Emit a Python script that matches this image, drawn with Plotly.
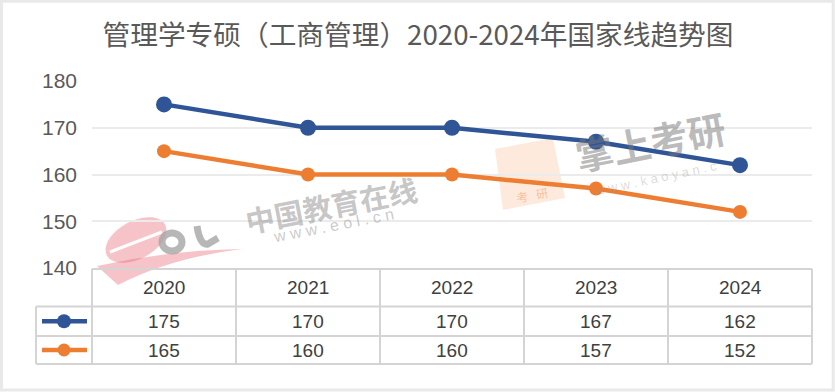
import math
import plotly.graph_objects as go

years = ["2020", "2021", "2022", "2023", "2024"]
series_a = [175, 170, 170, 167, 162]
series_b = [165, 160, 160, 157, 152]
y_ticks = [140, 150, 160, 170, 180]
title_text = "管理学专硕（工商管理）2020-2024年国家线趋势图"

blue = "#2F5597"
orange = "#ED7D31"
W, H = 835, 392
ml, mr, mt, mb = 92, 23, 81, 124
pw, ph = W - ml - mr, H - mt - mb


def px(xp):
    return (xp - ml) / pw


def py(yp):
    return (H - mb - yp) / ph


def poly(points):
    return "M " + " L ".join("{:.5f},{:.5f}".format(px(a), py(b)) for a, b in points) + " Z"


xi = list(range(len(years)))

fig = go.Figure()
fig.add_trace(go.Scatter(x=xi, y=series_a, mode="lines+markers",
                         line=dict(color=blue, width=4.5),
                         marker=dict(color=blue, size=16), showlegend=False))
fig.add_trace(go.Scatter(x=xi, y=series_b, mode="lines+markers",
                         line=dict(color=orange, width=4.5),
                         marker=dict(color=orange, size=14), showlegend=False))

shapes = []
# outer border
shapes.append(dict(type="rect", xref="paper", yref="paper",
                   x0=px(1.5), x1=px(833.2), y0=py(390), y1=py(1.2),
                   line=dict(color="#e9e9e9", width=3), layer="above"))

# watermark: kaoyan icon (faint orange rounded square)
shapes.append(dict(type="path", xref="paper", yref="paper",
                   path=poly([(495, 149), (553, 138), (565, 198), (503, 210)]),
                   fillcolor="rgba(249,180,130,0.28)", line=dict(width=0), layer="below"))

# watermark: eol logo, pink "e" body (tilted ellipse)
cx, cy, rx, ry, rot = 136, 240, 33, 19, math.radians(-28)
pts = []
for k in range(36):
    t = 2 * math.pi * k / 36
    ex, ey = rx * math.cos(t), ry * math.sin(t)
    pts.append((cx + ex * math.cos(rot) - ey * math.sin(rot),
                cy + ex * math.sin(rot) + ey * math.cos(rot)))
shapes.append(dict(type="path", xref="paper", yref="paper", path=poly(pts),
                   fillcolor="rgba(232,100,110,0.38)", line=dict(width=0), layer="below"))
shapes.append(dict(type="line", xref="paper", yref="paper",
                   x0=px(110), y0=py(252), x1=px(162), y1=py(232),
                   line=dict(color="white", width=3), layer="below"))
# pink swoosh tail
shapes.append(dict(type="path", xref="paper", yref="paper",
                   path="M {},{} Q {},{} {},{} Q {},{} {},{} Z".format(
                       px(97), py(266), px(170), py(250), px(242), py(249),
                       px(170), py(258), px(118), py(285)),
                   fillcolor="rgba(232,100,110,0.38)", line=dict(width=0), layer="below"))
# gray "o" ring
shapes.append(dict(type="circle", xref="paper", yref="paper", xsizemode="pixel",
                   ysizemode="pixel", xanchor=px(172), yanchor=py(242),
                   x0=-10, x1=10, y0=-9, y1=9, fillcolor="rgba(0,0,0,0)",
                   line=dict(color="rgba(165,165,165,0.8)", width=7), layer="below"))
# gray "l" hook
shapes.append(dict(type="path", xref="paper", yref="paper",
                   path="M {},{} Q {},{} {},{} L {},{}".format(
                       px(197), py(226), px(200), py(246), px(208), py(244),
                       px(218), py(238)),
                   fillcolor="rgba(0,0,0,0)",
                   line=dict(color="rgba(165,165,165,0.8)", width=7), layer="below"))

# table geometry
y_top = py(269)
y_h = py(306.5)
y_r1 = py(336)
y_r2 = py(364)
x_left = px(36)
tc = "#d4d4d4"
cat_edges = [px(ml + 144 * k) for k in range(len(years) + 1)]
shapes.append(dict(type="line", xref="paper", yref="paper", x0=cat_edges[0], x1=cat_edges[-1],
                   y0=y_top, y1=y_top, line=dict(color=tc, width=2)))
for yy in [y_h, y_r1, y_r2]:
    shapes.append(dict(type="line", xref="paper", yref="paper", x0=x_left, x1=cat_edges[-1],
                       y0=yy, y1=yy, line=dict(color=tc, width=2)))
shapes.append(dict(type="line", xref="paper", yref="paper", x0=x_left, x1=x_left,
                   y0=y_h, y1=y_r2, line=dict(color=tc, width=2)))
for xx in cat_edges:
    shapes.append(dict(type="line", xref="paper", yref="paper", x0=xx, x1=xx,
                       y0=y_top, y1=y_r2, line=dict(color=tc, width=2)))
# legend keys
for col, yy, r in [(blue, (y_h + y_r1) / 2, 7), (orange, (y_r1 + y_r2) / 2, 6.5)]:
    shapes.append(dict(type="line", xref="paper", yref="paper",
                       x0=px(42), x1=px(87), y0=yy, y1=yy,
                       line=dict(color=col, width=4.5)))
    shapes.append(dict(type="circle", xref="paper", yref="paper", xsizemode="pixel",
                       ysizemode="pixel", xanchor=px(64), yanchor=yy,
                       x0=-r, x1=r, y0=-r, y1=r, fillcolor=col, line=dict(color=col, width=0)))

annotations = []
tfont = dict(family="Liberation Sans, Arial", size=19, color="#404040")
for i, yr in enumerate(years):
    annotations.append(dict(x=i, y=(y_top + y_h) / 2, xref="x", yref="paper", text=yr,
                            showarrow=False, font=tfont, xanchor="center", yanchor="middle"))
    annotations.append(dict(x=i, y=(y_h + y_r1) / 2, xref="x", yref="paper", text=str(series_a[i]),
                            showarrow=False, font=tfont, xanchor="center", yanchor="middle"))
    annotations.append(dict(x=i, y=(y_r1 + y_r2) / 2, xref="x", yref="paper", text=str(series_b[i]),
                            showarrow=False, font=tfont, xanchor="center", yanchor="middle"))

# watermarks
wm = [
    ("中国教育在线", 331, 204, -11, 29, "rgba(150,150,150,0.55)", "Noto Sans CJK SC", 700),
    ("w w w . e o l . c n", 333, 225, -11, 16, "rgba(150,150,150,0.5)", "Liberation Sans", 400),
    ("掌上考研", 650, 140, -11, 38, "rgba(120,120,120,0.5)", "Noto Sans CJK SC", 700),
    ("w w w . k a o y a n . c", 655, 178, -12, 13, "rgba(150,150,150,0.35)", "Liberation Sans", 400),
    ("考   研", 532, 194, -10, 12, "rgba(240,140,80,0.45)", "Noto Sans CJK SC", 400),
]
for t, x_, y_, ang, sz, colr, fam, wt in wm:
    annotations.append(dict(x=px(x_), y=py(y_), xref="paper", yref="paper", text=t,
                            showarrow=False, textangle=ang, xanchor="center", yanchor="middle",
                            font=dict(family=fam, size=sz, color=colr, weight=wt)))

fig.update_layout(
    width=W, height=H,
    margin=dict(l=ml, r=mr, t=mt, b=mb, pad=0),
    paper_bgcolor="white", plot_bgcolor="white",
    title=dict(text=title_text, x=px(418), xref="paper", y=1 - 35 / H, yanchor="middle",
               xanchor="center",
               font=dict(family="Noto Sans CJK SC", size=27.7, color="#595959")),
    xaxis=dict(range=[-0.5, 4.5], showgrid=False, showticklabels=False, zeroline=False,
               showline=False, ticks=""),
    yaxis=dict(range=[140, 180], tickvals=y_ticks, showgrid=True, gridcolor="#ebebeb",
               gridwidth=2, zeroline=False, showline=False, ticks="",
               ticklabelstandoff=14,
               tickfont=dict(family="Liberation Sans, Arial", size=21, color="#595959")),
    shapes=shapes, annotations=annotations,
)

fig.write_html("out.html", config={"displayModeBar": False},
               post_script="document.body.style.margin='0px';document.body.style.overflow='hidden';")
